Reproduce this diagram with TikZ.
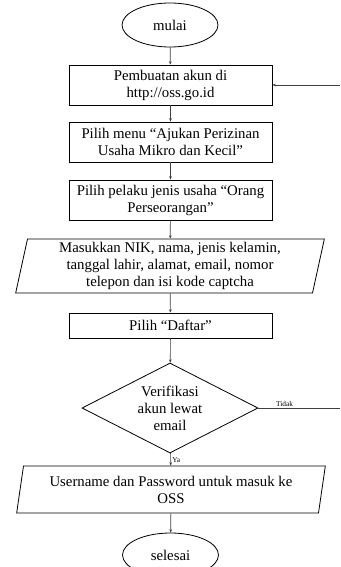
\documentclass[tikz,border=0pt]{standalone}
\usepackage{fontspec}
\setmainfont{Liberation Serif}
\usetikzlibrary{shapes.geometric,arrows.meta}
\begin{document}
\begin{tikzpicture}[x=0.75pt,y=-0.75pt,
    txt/.style={align=center,font=\fontsize{11.1}{12.75}\selectfont},
    terminal/.style={txt,draw,ellipse,line width=0.6pt,minimum width=72pt,minimum height=33pt,inner sep=0pt},
    prozess/.style={txt,draw,rectangle,line width=0.6pt,minimum width=152.25pt,minimum height=30pt,inner sep=0pt},
    eingabe/.style={txt,draw,trapezium,trapezium left angle=76,trapezium right angle=104,
      trapezium stretches body,line width=0.6pt,minimum width=231.5pt,inner sep=0pt},
    entscheid/.style={txt,draw,diamond,aspect=2,line width=0.6pt,minimum width=132pt,minimum height=67.5pt,inner sep=0pt},
    pfeil/.style={draw=black!75,line width=0.5pt,-{Stealth[length=2.5pt,width=2pt]}},
    klein/.style={font=\fontsize{5.5}{6}\selectfont,inner sep=1pt}]
       \useasboundingbox (0,0) rectangle (340,567);
       % Start und Ende
       \node[terminal] (mulai) at (170,25) {mulai};
       \node[terminal] (selesai) at (170.5,555) {selesai};
       % Prozesse
       \node[prozess] (akun) at (170.5,85) {Pembuatan akun di\\http://oss.go.id};
       \node[prozess] (menu) at (170.5,142) {Pilih menu ``Ajukan Perizinan\\Usaha Mikro dan Kecil''};
       \node[prozess] (pelaku) at (170.5,200) {Pilih pelaku jenis usaha ``Orang\\Perseorangan''};
       \node[eingabe,minimum height=40.5pt] (data) at (170,266) {Masukkan NIK, nama, jenis kelamin,\\tanggal lahir, alamat, email, nomor\\telepon dan isi kode captcha};
       \node[prozess,minimum height=18.75pt] (daftar) at (170.5,325.5) {Pilih ``Daftar''};
       % Verifikasi
       \node[entscheid] (verif) at (170,408) {Verifikasi\\akun lewat\\email};
       \node[eingabe,minimum height=35.25pt] (login) at (171,489.5) {Username dan Password untuk masuk ke\\OSS};
       % Rand rechts
       \coordinate (rand1) at (340,85);
       \coordinate (rand2) at (340,408);
       %
       \draw[pfeil] (mulai) -- (akun);
       \draw[pfeil] (akun) -- (menu);
       \draw[pfeil] (menu) -- (pelaku);
       \draw[pfeil] (pelaku) -- (data);
       \draw[pfeil] (data) -- (daftar);
       \draw[pfeil] (daftar) -- (verif);
       \draw[pfeil] (verif) -- node[klein,right,pos=0.55] {Ya} (login);
       \draw[pfeil] (login) -- (selesai);
       \draw[pfeil] (rand1) -- (akun);
       \draw[draw=black!75,line width=0.5pt] (verif.east) -- node[klein,above,pos=0.32] {Tidak} (rand2);
    \end{tikzpicture}
\end{document}
